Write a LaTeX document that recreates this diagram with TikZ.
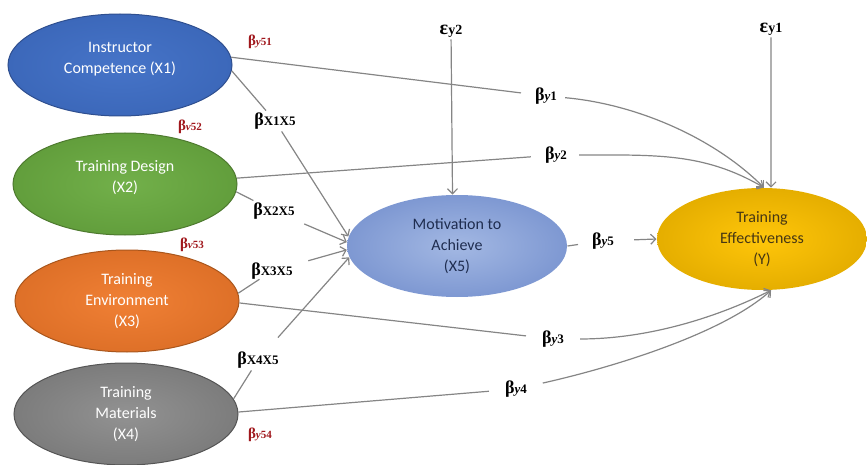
\documentclass[tikz,border=0pt]{standalone}
\usepackage{fontspec}
\setmainfont{Liberation Serif}
\newfontfamily\ovalfont{Carlito}
\usetikzlibrary{shapes.geometric, arrows.meta}

\definecolor{coefred}{HTML}{A0171C}
\definecolor{linkgray}{HTML}{858585}
\definecolor{oneedge}{HTML}{2F4F8F}
\definecolor{twoedge}{HTML}{4E7A2F}
\definecolor{threeedge}{HTML}{A9561C}
\definecolor{fouredge}{HTML}{555555}

\newcommand{\coefb}[1]{{\fontsize{18}{18}\selectfont\bfseries β}{\fontsize{13}{13}\selectfont\bfseries #1}}
\newcommand{\coefr}[1]{{\fontsize{15}{15}\selectfont\bfseries β}{\fontsize{11}{11}\selectfont\bfseries #1}}
\newcommand{\erry}[1]{{\fontsize{20}{20}\selectfont\bfseries ε}{\fontsize{14}{14}\selectfont\bfseries #1}}

\begin{document}
\begin{tikzpicture}[x=1pt, y=-1pt,
    var/.style={ellipse, line width=1pt, minimum width=224pt, minimum height=102pt, inner sep=0pt,
        align=center, font=\ovalfont\fontsize{16}{21}\selectfont},
    coef/.style={inner sep=2pt},
    redcoef/.style={coef, text=coefred},
    link/.style={draw=linkgray, line width=1.2pt},
    >={Straight Barb[length=5pt, width=10pt]}]

\useasboundingbox (0,0) rectangle (867,465);

% latent variables
\node at (120,65) [var, shading=radial, inner color={rgb,255:red,70;green,116;blue,200}, outer color={rgb,255:red,60;green,104;blue,186}, draw=oneedge, text=white] (X1) {Instructor\\Competence (X1)\\[-6pt]\mbox{}};
\node at (125,184) [var, shading=radial, inner color={rgb,255:red,114;green,176;blue,74}, outer color={rgb,255:red,98;green,158;blue,60}, draw=twoedge, text=white] (X2) {Training Design\\(X2)\\[-6pt]\mbox{}};
\node at (127,301) [var, shading=radial, inner color={rgb,255:red,240;green,128;blue,53}, outer color={rgb,255:red,222;green,112;blue,40}, draw=threeedge, text=white] (X3) {Training\\Environment\\(X3)};
\node at (126,414) [var, shading=radial, inner color={rgb,255:red,146;green,146;blue,146}, outer color={rgb,255:red,124;green,124;blue,124}, draw=fouredge, text=white] (X4) {Training\\Materials\\(X4)};
\node at (457,246) [var, minimum width=220pt, shading=radial, inner color={rgb,255:red,163;green,184;blue,227}, outer color={rgb,255:red,126;green,152;blue,210}, text={rgb,255:red,31;green,45;blue,80}] (X5) {Motivation to\\Achieve\\(X5)};
\node at (762,239) [var, minimum width=210pt, shading=radial, inner color={rgb,255:red,255;green,198;blue,10}, outer color={rgb,255:red,229;green,174;blue,0}, text={rgb,255:red,70;green,55;blue,20}] (Y) {Training\\Effectiveness\\(Y)};

% path coefficients
\node at (260,42) [redcoef] (by51) {\coefr{\textit{y}51}};
\node at (190,127) [redcoef] (by52) {\coefr{\textit{v}52}};
\node at (192,245) [redcoef] (by53) {\coefr{\textit{v}53}};
\node at (260,435) [redcoef] (by54) {\coefr{\textit{y}54}};
\node at (275,121) [coef] (bx1) {\coefb{X1X5}};
\node at (274,211) [coef] (bx2) {\coefb{X2X5}};
\node at (272,271) [coef] (bx3) {\coefb{X3X5}};
\node at (258,360) [coef] (bx4) {\coefb{X4X5}};
\node at (546,96) [coef] (by1) {\coefb{\textit{y}1}};
\node at (556,155) [coef] (by2) {\coefb{\textit{y}2}};
\node at (553,339) [coef] (by3) {\coefb{\textit{y}3}};
\node at (516,389) [coef] (by4) {\coefb{\textit{y}4}};
\node at (603,241) [coef] (by5) {\coefb{\textit{y}5}};
\node at (451,31) [coef] (ey2) {\erry{y2}};
\node at (771,29) [coef] (ey1) {\erry{y1}};

% X -> X5
\draw[link] (X1.-3) -- (bx1);
\draw[link, ->] (bx1) -- (X5.175);
\draw[link] (X2.-4) -- (bx2);
\draw[link, ->, shorten <=8pt] (bx2) -- (X5.178);
\draw[link, shorten >=-4pt] (X3.4) -- (bx3);
\draw[link, ->, shorten <=14pt] (bx3) -- (X5.182);
\draw[link] (X4.8) -- (bx4);
\draw[link, ->, shorten <=16pt] (bx4) -- (X5.186);

% X -> Y
\draw[link, shorten >=12pt] (X1.4) -- (by1);
\draw[link, ->, shorten <=6pt] (by1) .. controls +(90,8) and +(-50,-50) .. (Y.88);
\draw[link, shorten >=12pt] (X2.3) -- (by2);
\draw[link, ->, shorten <=10pt] (by2) .. controls +(100,0) and +(-60,-35) .. (Y.88);
\draw[link, shorten >=14pt] (X3.-1) -- (by3);
\draw[link, ->, shorten <=14pt] (by3) .. controls +(90,0) and +(-60,30) .. (Y.-80);
\draw[link, shorten >=14pt] (X4.1) -- (by4);
\draw[link, ->, shorten <=14pt] (by4) .. controls +(90,-20) and +(-50,45) .. (Y.-80);

% X5 -> Y and errors
\draw[link, shorten >=12pt] (X5.east) -- (by5);
\draw[link, ->, shorten <=18pt] (by5) -- (Y.west);
\draw[link, ->] (ey2) -- (X5.95);
\draw[link, ->] (ey1) -- (Y.80);
\end{tikzpicture}
\end{document}
